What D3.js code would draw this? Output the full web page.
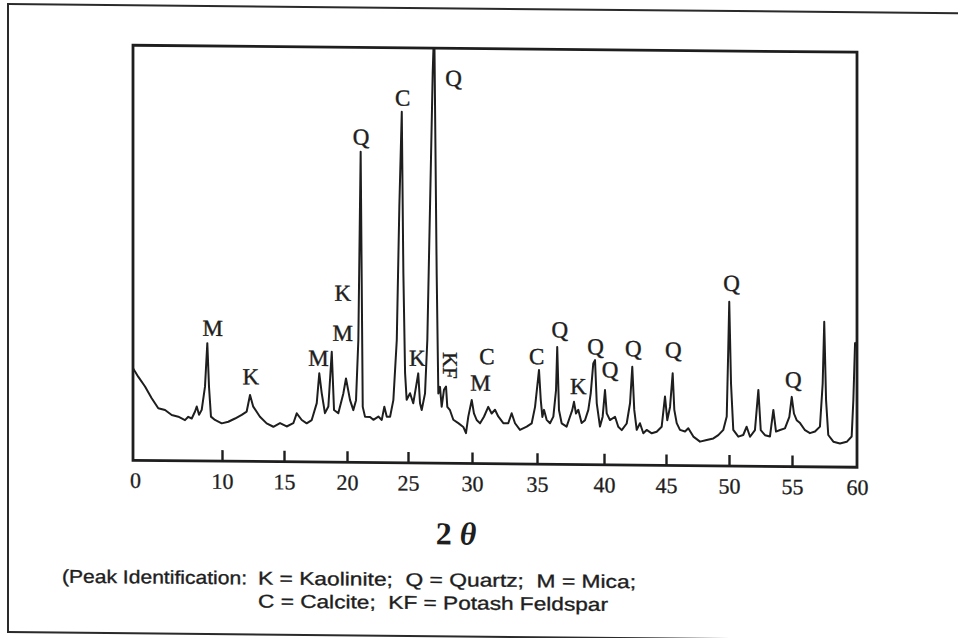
<!DOCTYPE html>
<html>
<head>
<meta charset="utf-8">
<script src="https://cdn.jsdelivr.net/npm/d3@7/dist/d3.min.js"></script>
<style>
  html, body { margin: 0; padding: 0; background: #ffffff; }
  svg { display: block; }
</style>
</head>
<body>
<svg id="chart" width="958" height="638"></svg>
<script>
// ---- data (2θ in degrees, intensity in arbitrary counts) ----
const twoTheta = [
  0.0, 0.60, 1.35, 2.10, 2.84, 3.60, 4.35, 5.09, 5.84, 6.21, 6.60, 6.97, 7.16, 7.42, 7.72, 8.09, 8.35, 8.54, 8.76, 9.21,
  9.97, 10.51, 11.05, 11.59, 11.99, 12.26, 12.52, 13.06, 13.60, 14.14, 14.68, 15.21, 15.74, 16.01, 16.41, 16.80, 17.20, 17.60, 17.80, 17.99,
  18.25, 18.52, 18.79, 18.97, 19.31, 19.71, 19.92, 20.25, 20.52, 20.74, 20.93, 21.12, 21.29, 21.48, 21.89, 22.16, 22.57, 22.85, 23.06, 23.26,
  23.53, 23.80, 24.08, 24.29, 24.49, 24.62, 24.76, 24.89, 25.16, 25.41, 25.63, 25.80, 25.94, 26.07, 26.33, 26.51, 26.72, 26.93, 27.05, 27.24,
  27.37, 27.50, 27.63, 27.81, 27.97, 28.07, 28.28, 28.54, 28.93, 29.32, 29.53, 29.71, 29.98, 30.15, 30.36, 30.62, 30.92, 31.25, 31.51, 31.77,
  32.02, 32.41, 32.79, 33.05, 33.31, 33.69, 34.21, 34.59, 34.85, 35.15, 35.28, 35.40, 35.52, 35.72, 35.97, 36.22, 36.42, 36.51, 36.64, 36.84,
  37.21, 37.46, 37.63, 37.76, 37.91, 38.08, 38.33, 38.58, 38.83, 39.01, 39.20, 39.33, 39.46, 39.70, 39.90, 40.08, 40.22, 40.48, 40.89, 41.15,
  41.43, 41.83, 42.10, 42.28, 42.44, 42.64, 42.90, 43.17, 43.44, 43.85, 44.25, 44.65, 44.92, 45.10, 45.32, 45.53, 45.66, 45.85, 46.11, 46.51,
  46.77, 47.17, 47.70, 48.23, 48.76, 49.15, 49.55, 49.82, 49.94, 50.02, 50.16, 50.34, 50.74, 51.13, 51.40, 51.67, 52.06, 52.33, 52.52, 52.86,
  53.25, 53.52, 53.73, 54.05, 54.44, 54.79, 54.98, 55.15, 55.36, 55.62, 56.00, 56.38, 56.77, 57.15, 57.36, 57.48, 57.62, 57.79, 58.18, 58.69,
  59.21, 59.59, 59.72, 59.85, 59.92
];
const intensity = [
  222, 201, 178, 150, 126, 122, 110, 106, 98, 106, 102, 119, 131, 111, 123, 179, 284, 179, 107, 99,
  91, 95, 103, 112, 120, 160, 132, 108, 92, 84, 93, 85, 93, 117, 101, 93, 101, 142, 214, 167,
  118, 134, 266, 126, 118, 166, 202, 150, 126, 150, 295, 749, 134, 110, 110, 103, 111, 103, 135, 111,
  111, 151, 296, 617, 846, 458, 217, 152, 168, 144, 184, 216, 144, 128, 168, 297, 618, 940, 1060, 458,
  168, 184, 136, 177, 185, 136, 128, 105, 97, 88, 73, 113, 153, 121, 105, 97, 113, 137, 121, 130,
  114, 98, 98, 122, 98, 82, 90, 98, 138, 227, 155, 114, 131, 107, 99, 115, 179, 283, 131, 99,
  91, 115, 131, 151, 123, 132, 100, 107, 132, 172, 244, 252, 148, 92, 116, 180, 124, 108, 116, 92,
  84, 100, 149, 237, 133, 85, 101, 77, 85, 77, 81, 93, 166, 109, 141, 222, 134, 102, 86, 82,
  90, 70, 58, 62, 66, 74, 87, 119, 280, 396, 199, 87, 71, 75, 95, 71, 87, 184, 87, 75,
  72, 136, 84, 88, 92, 120, 168, 128, 112, 105, 88, 81, 85, 97, 201, 350, 161, 77, 61, 57,
  61, 74, 162, 299, 300
];

// axis ticks (the original axis is compressed between 0 and 10)
const tickValues = [0, 10, 15, 20, 25, 30, 35, 40, 45, 50, 55, 60];
const tickPixels = [133, 222, 284, 347, 408, 472, 537, 604, 666, 729, 792, 857];

// peak identification labels
const peakLabelText  = ["M", "K", "M", "M", "K", "Q", "C", "Q", "K", "KF", "C", "M", "C", "Q", "K", "Q", "Q", "Q", "Q", "Q", "Q"];
const peakLabelTheta = [8.96, 12.32, 17.74, 19.66, 19.66, 21.16, 24.56, 28.56, 25.73, 28.28, 31.14, 30.65, 34.98, 36.71, 38.08, 39.37, 40.48, 42.36, 45.58, 50.21, 55.10];
const peakLabelInt   = [320, 204, 250, 311, 407, 784, 879, 928, 252, 236, 258, 194, 259, 324, 188, 284, 229, 281, 278, 440, 209];

const xTitle = "2";
const xTitleGreek = "θ";
const legendLines = [
  ["(Peak Identification:", "K = Kaolinite;  Q = Quartz;  M = Mica;"],
  ["", "C = Calcite;  KF = Potash Feldspar"]
];

// ---- layout ----
const plot = { left: 133, right: 857, top: 44, bottom: 459 };
const ink = "#1e1e1e";

const svg = d3.select("#chart");
svg.append("rect").attr("width", 958).attr("height", 638).attr("fill", "#ffffff");

const root = svg.append("g").attr("transform", "skewY(0.55)");

// outer page frame
root.append("rect")
  .attr("x", 8).attr("y", 4).attr("width", 980).attr("height", 628)
  .attr("fill", "none").attr("stroke", "#2a2a2a").attr("stroke-width", 2);

const x = d3.scaleLinear().domain(tickValues).range(tickPixels);
const y = d3.scaleLinear().domain([0, 1000]).range([plot.bottom, plot.top]);

// clip
root.append("clipPath").attr("id", "plotclip")
  .append("rect")
  .attr("x", plot.left).attr("y", plot.top)
  .attr("width", plot.right - plot.left).attr("height", plot.bottom - plot.top);

const pts = twoTheta.map((t, i) => [t, intensity[i]]);
const line = d3.line().x(d => x(d[0])).y(d => y(d[1]));

root.append("path")
  .datum(pts)
  .attr("clip-path", "url(#plotclip)")
  .attr("d", line)
  .attr("fill", "none")
  .attr("stroke", ink)
  .attr("stroke-width", 2)
  .attr("stroke-linejoin", "round");

// frame
root.append("rect")
  .attr("x", plot.left).attr("y", plot.top)
  .attr("width", plot.right - plot.left).attr("height", plot.bottom - plot.top)
  .attr("fill", "none").attr("stroke", ink).attr("stroke-width", 2.8);

// x axis
const axis = d3.axisBottom(x).tickValues(tickValues).tickSize(-11).tickPadding(12).tickFormat(d3.format("d"));
const gx = root.append("g").attr("transform", `translate(0,${plot.bottom})`).call(axis);
gx.select(".domain").remove();
gx.selectAll(".tick line")
  .attr("stroke", ink).attr("stroke-width", 2.4)
  .filter(d => d === 0 || d === 60).remove();
gx.selectAll(".tick text")
  .attr("fill", ink)
  .attr("stroke", ink).attr("stroke-width", 0.3)
  .style("font-family", "'Liberation Serif', 'Times New Roman', serif")
  .style("font-size", "22px")
  .attr("dx", d => d === 0 ? 2 : 0);

// peak labels
root.append("g").selectAll("text")
  .data(peakLabelText.map((t, i) => ({ t, th: peakLabelTheta[i], v: peakLabelInt[i] })))
  .join("text")
  .attr("transform", d => d.t === "KF"
    ? `translate(${x(d.th)},${y(d.v)}) rotate(90)`
    : `translate(${x(d.th)},${y(d.v)})`)
  .attr("text-anchor", "middle")
  .attr("dominant-baseline", "central")
  .attr("fill", ink)
  .attr("stroke", ink).attr("stroke-width", 0.4)
  .style("font-family", "'Liberation Serif', 'Times New Roman', serif")
  .style("font-size", d => d.t === "KF" ? "21px" : "23px")
  .text(d => d.t);

// x title
const title = root.append("text")
  .attr("x", 456).attr("y", 540)
  .attr("text-anchor", "middle")
  .attr("fill", ink)
  .style("font-family", "'Liberation Serif', 'Times New Roman', serif")
  .style("font-size", "32px")
  .style("font-weight", "bold");
title.append("tspan").text(xTitle + " ");
title.append("tspan").style("font-style", "italic").text(xTitleGreek);

// legend
const legendStyle = sel => sel
  .attr("fill", ink)
  .attr("stroke", ink).attr("stroke-width", 0.35)
  .style("font-family", "'Liberation Sans', Arial, sans-serif")
  .style("font-size", "18.5px")
  .attr("xml:space", "preserve")
  .attr("lengthAdjust", "spacingAndGlyphs");

root.append("text").call(legendStyle)
  .attr("x", 62).attr("y", 582).attr("textLength", 185).text(legendLines[0][0]);
root.append("text").call(legendStyle)
  .attr("x", 258).attr("y", 582).attr("textLength", 378).text(legendLines[0][1]);
root.append("text").call(legendStyle)
  .attr("x", 258).attr("y", 605).attr("textLength", 350).text(legendLines[1][1]);
</script>
</body>
</html>
